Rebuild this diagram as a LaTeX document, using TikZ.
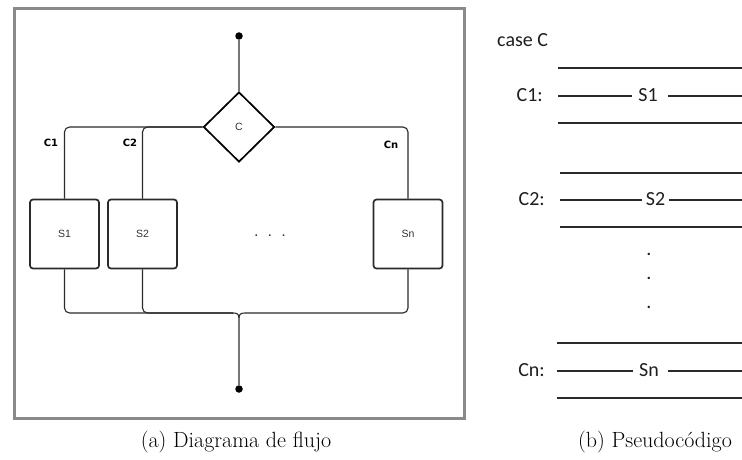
\documentclass[tikz,border=0pt]{standalone}
\usepackage{fontspec}
\newfontfamily\calib{Carlito}
\newfontfamily\arialf{Liberation Sans}
\newfontfamily\dejab{DejaVu Sans}
\usetikzlibrary{shapes.geometric}
\definecolor{framec}{HTML}{8A8A8A}
\definecolor{linec}{HTML}{2A2A2A}
\definecolor{grayc}{HTML}{777777}
\definecolor{txtc}{HTML}{333333}
\definecolor{pctxt}{HTML}{1E1E1E}
\begin{document}
\begin{tikzpicture}[x=1pt,y=-1pt,
  conn/.style={draw=linec, line width=1.1pt, rounded corners=5pt},
  vconn/.style={draw=grayc, line width=1.6pt},
  dotn/.style={circle, fill=black, inner sep=0pt, minimum size=7.5pt},
  dec/.style={diamond, draw=black, line width=1.7pt, inner sep=0pt, minimum width=71pt, minimum height=70pt, font=\arialf\fontsize{10.5}{12}\selectfont, text=txtc},
  sbox/.style={rectangle, rounded corners=3pt, draw=linec, line width=1.7pt, minimum width=69pt, minimum height=69pt, inner sep=0pt, font=\arialf\fontsize{10.5}{12}\selectfont, text=txtc},
  clab/.style={font=\dejab\bfseries\fontsize{10}{12}\selectfont, text=black, inner sep=0pt},
  pc/.style={font=\calib\fontsize{20}{24}\selectfont, text=pctxt, inner sep=0pt},
  pline/.style={draw=linec, line width=1.3pt},
  captext/.style={font=\fontsize{22}{26}\selectfont, inner sep=0pt, anchor=base}
]
\useasboundingbox (0,0) rectangle (742,460);
\fill[white] (0,0) rectangle (742,460);

% frame
\draw[framec, line width=3pt] (14,9) rectangle (464.5,418);

% flowchart nodes
\node[dotn] (top) at (239,36) {};
\node[dec] (C) at (239,127) {C};
\node[sbox] (S1) at (64.5,234) {S1};
\node[sbox] (S2) at (142.5,234) {S2};
\node[sbox] (Sn) at (408,234) {Sn};
\node[font=\arialf\bfseries\fontsize{11}{12}\selectfont, text=txtc, inner sep=0pt, anchor=base] (dots) at (270,236) {.\hspace{10.5pt}.\hspace{10.5pt}.};
\node[dotn] (bot) at (239,389) {};

\node[clab] (l1) at (51,143) {C1};
\node[clab] (l2) at (130,143) {C2};
\node[clab] (ln) at (391,145) {Cn};

% top connectors
\draw[vconn] (top) -- (C.north);
\path[conn] (C.west) -| (S1.north);
\path[conn] (C.west) -| (S2.north);
\path[conn] (C.east) -| (Sn.north);

% bottom connectors
\coordinate (bl) at (233,313);
\coordinate (br) at (245,313);
\coordinate (bj) at (239,318);
\path[conn] (S1.south) |- (bl);
\path[conn] (S2.south) |- (bl);
\path[conn] (Sn.south) |- (br);
\draw[linec, line width=1.1pt] (bl) .. controls (237,313) and (239,314) .. (bj);
\draw[linec, line width=1.1pt] (br) .. controls (241,313) and (239,314) .. (bj);
\draw[vconn] (bj) -- (bot);

% pseudocode
\node[pc, anchor=base west] (case) at (497,47) {case C};

\coordinate (a1) at (558,68);  \coordinate (b1) at (742,68);
\coordinate (a2) at (558,123); \coordinate (b2) at (742,123);
\coordinate (m1a) at (558,96); \coordinate (m1b) at (632,96);
\coordinate (m1c) at (668,96); \coordinate (m1d) at (742,96);
\draw[pline] (a1) -- (b1);
\draw[pline] (a2) -- (b2);
\draw[pline] (m1a) -- (m1b);
\draw[pline] (m1c) -- (m1d);
\node[pc, anchor=base east] (c1) at (543,101) {C1:};
\node[pc, anchor=base] (s1) at (648,101) {S1};

\coordinate (a3) at (560,173); \coordinate (b3) at (742,173);
\coordinate (a4) at (560,227); \coordinate (b4) at (742,227);
\coordinate (m2a) at (560,200); \coordinate (m2b) at (642,200);
\coordinate (m2c) at (669,200); \coordinate (m2d) at (742,200);
\draw[pline] (a3) -- (b3);
\draw[pline] (a4) -- (b4);
\draw[pline] (m2a) -- (m2b);
\draw[pline] (m2c) -- (m2d);
\node[pc, anchor=base east] (c2) at (545,205) {C2:};
\node[pc, anchor=base] (s2) at (655.5,205) {S2};

\node[pc, anchor=base] (v1) at (649,255) {.};
\node[pc, anchor=base] (v2) at (649,279) {.};
\node[pc, anchor=base] (v3) at (649,308) {.};

\coordinate (a5) at (557,343); \coordinate (b5) at (742,343);
\coordinate (a6) at (557,398); \coordinate (b6) at (742,398);
\coordinate (m3a) at (557,371); \coordinate (m3b) at (633,371);
\coordinate (m3c) at (668,371); \coordinate (m3d) at (742,371);
\draw[pline] (a5) -- (b5);
\draw[pline] (a6) -- (b6);
\draw[pline] (m3a) -- (m3b);
\draw[pline] (m3c) -- (m3d);
\node[pc, anchor=base east] (cn) at (545,376) {Cn:};
\node[pc, anchor=base] (sn) at (649,376) {Sn};

% captions
\node[captext] (capa) at (236,447) {(a) Diagrama de flujo};
\node[captext] (capb) at (655,447) {(b) Pseudocódigo};
\end{tikzpicture}
\end{document}
